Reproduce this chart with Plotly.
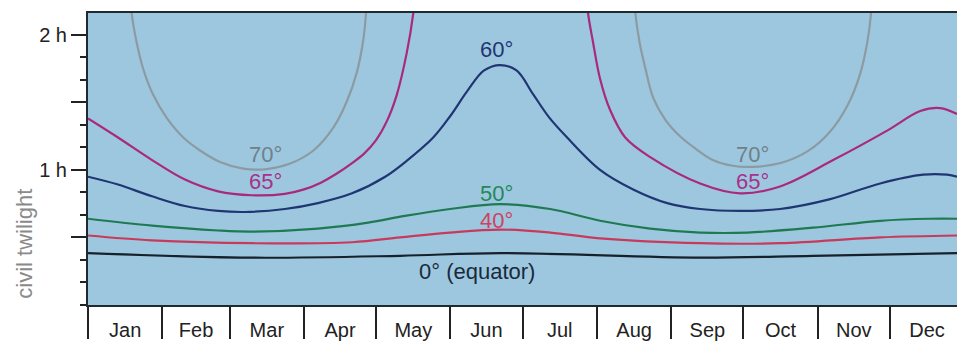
import plotly.graph_objects as go

# ---- data (day of year, civil twilight duration in hours) ----
months = ["Jan", "Feb", "Mar", "Apr", "May", "Jun", "Jul", "Aug", "Sep", "Oct", "Nov", "Dec"]
month_days = [31, 28, 31, 30, 31, 30, 31, 31, 30, 31, 30, 31]

eq_days = [0, 68, 130, 172, 255, 302, 362]
eq_hours = [0.384, 0.350, 0.364, 0.384, 0.350, 0.364, 0.384]

lat40_days = [0, 26.7, 68.3, 110, 130, 150.8, 171.7, 192.5, 213.3, 255, 288.3, 330, 362]
lat40_hours = [0.514, 0.478, 0.457, 0.464, 0.500, 0.536, 0.558, 0.536, 0.493, 0.457, 0.457, 0.500, 0.514]

lat50_days = [0, 26.7, 54.2, 68.3, 95.8, 116.7, 132, 150.8, 171.7, 192.5, 213.3, 234.2, 255, 274.6, 302, 330, 350.8, 362]
lat50_hours = [0.638, 0.587, 0.551, 0.543, 0.565, 0.609, 0.659, 0.710, 0.746, 0.710, 0.623, 0.565, 0.536, 0.536, 0.572, 0.623, 0.638, 0.638]

lat60_days = [0, 12.5, 26.7, 40.4, 54.2, 65.4, 82, 95.8, 110, 123.8, 133, 143.8, 151, 157.9, 165, 171.7,
              178.5, 185.4, 192, 199.6, 213.3, 227.1, 241.3, 255, 271.7, 288.3, 309.2, 330, 347.9, 357.9, 362]
lat60_hours = [0.949, 0.891, 0.804, 0.732, 0.696, 0.688, 0.710, 0.754, 0.826, 0.949, 1.070, 1.239, 1.400, 1.580, 1.735, 1.775,
               1.735, 1.560, 1.390, 1.239, 1.000, 0.855, 0.754, 0.710, 0.696, 0.710, 0.783, 0.899, 0.964, 0.964, 0.949]

lat65_days = [0, 12.5, 26.7, 40.4, 54.2, 68.3, 82, 90, 97, 103, 110, 115, 120, 124.5, 128.6, 132.8, 135.5, 136.5, None,
              207.5, 208.3, 210.4, 213.3, 217.5, 223.8, 234.2, 255, 271.7, 288.3, 310.4, 332.9, 346.7, 355, 362]
lat65_hours = [1.380, 1.239, 1.072, 0.928, 0.841, 0.812, 0.822, 0.855, 0.905, 0.965, 1.050, 1.120, 1.220, 1.360, 1.553, 1.867, 2.157, 2.35, None,
               2.35, 2.160, 1.942, 1.674, 1.442, 1.239, 1.094, 0.899, 0.826, 0.877, 1.072, 1.290, 1.435, 1.457, 1.413]

lat70_days = [17.6, 18.2, 20.3, 23.0, 27.2, 32.8, 39.7, 46.7, 55.0, 64.7, 74.5, 84.2, 93.9, 102.2, 107.8, 112.0, 114.7, 115.8, 116.3, None,
              227.4, 228, 229.8, 232.2, 235.5, 240.5, 246.5, 252.8, 260, 268.5, 277, 288.5, 300, 309, 316.5, 321.5, 324.7, 326.2, 326.7]
lat70_hours = [2.35, 2.157, 1.940, 1.746, 1.553, 1.384, 1.239, 1.143, 1.058, 1.009, 1.005, 1.046, 1.143, 1.312, 1.505, 1.722, 1.964, 2.157, 2.35, None,
               2.35, 2.160, 1.940, 1.750, 1.530, 1.370, 1.250, 1.160, 1.075, 1.030, 1.022, 1.050, 1.140, 1.280, 1.480, 1.700, 1.950, 2.160, 2.35]

y_tickvals = [0.5, 1, 1.5, 2]
y_ticktext = ["", "1 h", "", "2 h"]

# ---- derived month positions ----
month_starts = [sum(month_days[:i]) for i in range(12)]
month_mids = [s + d / 2 for s, d in zip(month_starts, month_days)]

FONT = "Liberation Sans, Arial, Helvetica, sans-serif"

series = [
    ("70°", lat70_days, lat70_hours, "#8c9ba2"),
    ("65°", lat65_days, lat65_hours, "#a8297f"),
    ("60°", lat60_days, lat60_hours, "#1f3672"),
    ("50°", lat50_days, lat50_hours, "#1f7a52"),
    ("40°", lat40_days, lat40_hours, "#c83a5c"),
    ("0°", eq_days, eq_hours, "#16212c"),
]

fig = go.Figure()
for name, xs, ys, col in series:
    fig.add_trace(go.Scatter(
        x=xs, y=ys, mode="lines", name=name,
        line=dict(color=col, width=2.2, shape="spline", smoothing=1.0),
        connectgaps=False, showlegend=False, hoverinfo="skip",
    ))

labels = [
    ("70°", 74, 1.11, "#6f8189"),
    ("70°", 277, 1.11, "#6f8189"),
    ("65°", 74, 0.915, "#a8308a"),
    ("65°", 277, 0.915, "#a8308a"),
    ("60°", 170, 1.89, "#1f3672"),
    ("50°", 170, 0.826, "#24885a"),
    ("40°", 170, 0.623, "#d04262"),
    ("0° (equator)", 162, 0.246, "#1a2a3a"),
]
for txt, lx, ly, col in labels:
    fig.add_annotation(x=lx, y=ly, xref="x", yref="y", text=txt, showarrow=False,
                       font=dict(family=FONT, size=22, color=col),
                       xanchor="center", yanchor="middle")

fig.add_annotation(text="civil twilight", xref="paper", yref="paper",
                   x=-0.0725, y=0.21, textangle=-90, showarrow=False,
                   font=dict(family=FONT, size=22, color="#8a8a8a"),
                   xanchor="center", yanchor="middle")

fig.update_layout(
    width=957, height=341,
    margin=dict(l=88, r=0, t=13, b=30),
    paper_bgcolor="white",
    plot_bgcolor="#9dc7df",
    xaxis=dict(
        range=[0, 362], showgrid=False, zeroline=False,
        showline=True, linecolor="#1e2a30", linewidth=2, mirror=True,
        tickmode="array", tickvals=month_mids, ticktext=months, ticks="",
        ticklabelstandoff=6,
        tickfont=dict(family=FONT, size=20, color="#222222"),
        minor=dict(tickmode="array", tickvals=month_starts, ticks="outside",
                   ticklen=32, tickwidth=2, tickcolor="#222222", showgrid=False),
    ),
    yaxis=dict(
        range=[0, 2.16], showgrid=False, zeroline=False,
        showline=True, linecolor="#1e2a30", linewidth=2,
        tickmode="array", tickvals=y_tickvals, ticktext=y_ticktext,
        ticks="outside", ticklen=15, tickwidth=2, tickcolor="#222222",
        tickfont=dict(family=FONT, size=20, color="#222222"),
        minor=dict(dtick=1 / 6, tick0=0, ticks="outside", ticklen=6,
                   tickwidth=2, tickcolor="#222222", showgrid=False),
    ),
)

fig.write_html("out.html", config={"displayModeBar": False},
               post_script="document.body.style.margin='0';document.body.style.overflow='hidden';")
